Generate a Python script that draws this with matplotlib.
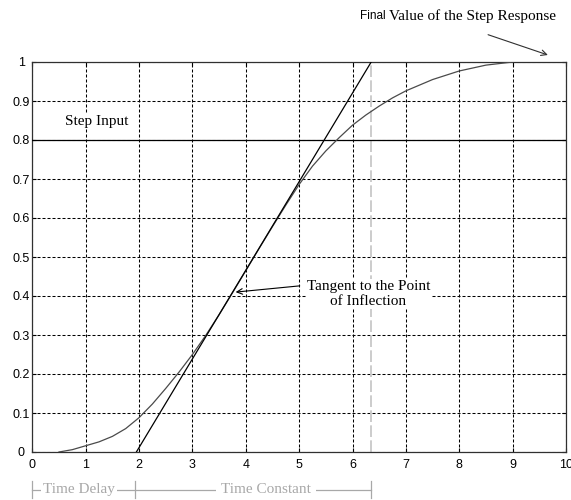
import matplotlib
matplotlib.use("Agg")
import matplotlib.pyplot as plt

# ---- data ----
x_resp = [0.5, 0.75, 1.0, 1.25, 1.5, 1.75, 2.0, 2.25, 2.5, 2.75, 3.0, 3.25, 3.5,
          3.75, 4.0, 4.25, 4.5, 4.75, 5.0, 5.25, 5.5, 5.75, 6.0, 6.25, 6.5, 6.75,
          7.0, 7.5, 8.0, 8.5, 9.0]
y_resp = [0.0, 0.006, 0.016, 0.026, 0.04, 0.06, 0.088, 0.123, 0.163, 0.205, 0.25,
          0.299, 0.352, 0.408, 0.465, 0.522, 0.578, 0.633, 0.686, 0.733, 0.772,
          0.806, 0.838, 0.864, 0.887, 0.908, 0.926, 0.955, 0.977, 0.992, 1.0]
step_level = 0.8
time_delay = 1.95          # tangent x-intercept
tangent_end = 6.35         # tangent reaches final value
final_value = 1.0
x_ticks = [0, 1, 2, 3, 4, 5, 6, 7, 8, 9, 10]
y_ticks = [0, 0.1, 0.2, 0.3, 0.4, 0.5, 0.6, 0.7, 0.8, 0.9, 1]
y_tick_labels = ["0", "0.1", "0.2", "0.3", "0.4", "0.5", "0.6", "0.7", "0.8", "0.9", "1"]

SERIF = "Liberation Serif"
SANS = "Liberation Sans"
FS = 11

fig = plt.figure(figsize=(5.71, 5.0), dpi=100)
ax = fig.add_axes([32.3 / 571, 1 - 452 / 500, (566 - 32.3) / 571, (452 - 62) / 500])

ax.set_xlim(0, 10)
ax.set_ylim(0, 1)
ax.set_xticks(x_ticks)
ax.set_yticks(y_ticks)
ax.set_yticklabels(y_tick_labels)

# grid
ax.grid(True, color="black", linestyle=(0, (2.9, 1.9)), linewidth=0.75)
ax.set_axisbelow(True)

for sp in ax.spines.values():
    sp.set_linewidth(0.9)
    sp.set_color("#303030")

ax.tick_params(direction="in", length=3, width=0.8, top=True, right=True,
               labelsize=9, colors="black")
ax.tick_params(axis="x", pad=5)
ax.tick_params(axis="y", pad=7.8)
for lab in ax.get_yticklabels():
    lab.set_horizontalalignment("center")
for lab in ax.get_xticklabels() + ax.get_yticklabels():
    lab.set_fontfamily(SANS)

# step input
ax.plot([0, 10], [step_level, step_level], color="black", linewidth=0.9, zorder=3)

# time-constant marker
ax.plot([tangent_end, tangent_end], [0, final_value], color="#c4c4c4",
        linewidth=1.2, linestyle=(0, (7, 2)), zorder=2.5)

# response curve
ax.plot(x_resp, y_resp, color="#4a4a4a", linewidth=0.9, zorder=4)

# tangent line
ax.plot([time_delay, tangent_end], [0, final_value], color="black",
        linewidth=0.9, zorder=4)

# texts
ax.text(0.61, 0.847, "Step Input", fontfamily=SERIF, fontsize=FS,
        ha="left", va="center", zorder=5,
        bbox=dict(facecolor="white", edgecolor="none", pad=0.5))

ax.text(6.3, 0.405, "Tangent to the Point\nof Inflection", fontfamily=SERIF,
        fontsize=FS, ha="center", va="center", multialignment="center",
        linespacing=1.2, zorder=5,
        bbox=dict(facecolor="white", edgecolor="none", pad=0.5))
ax.annotate("", xy=(3.81, 0.41), xytext=(5.01, 0.426),
            arrowprops=dict(arrowstyle="->", color="black", lw=0.8,
                            shrinkA=0, shrinkB=0), zorder=5)

# final value annotation (above the axes)
ax.text(6.62, 1.117, "Final", fontfamily=SANS, fontsize=8.5, ha="right",
        va="center", clip_on=False)
ax.text(6.68, 1.117, "Value of the Step Response", fontfamily=SERIF, fontsize=FS,
        ha="left", va="center", clip_on=False)
ax.annotate("", xy=(9.66, 1.018), xytext=(8.54, 1.070),
            arrowprops=dict(arrowstyle="->", color="#303030", lw=0.8,
                            shrinkA=0, shrinkB=0), annotation_clip=False)

# bottom time-delay / time-constant annotation
gray = "#a8a8a8"
yb = -0.097
ax.plot([-0.01, tangent_end], [yb, yb], color=gray, linewidth=0.9, clip_on=False)
for xv in (-0.01, time_delay - 0.02, tangent_end):
    ax.plot([xv, xv], [yb - 0.022, yb + 0.022], color=gray, linewidth=0.9,
            clip_on=False)
ax.text(0.875, yb, "Time Delay", fontfamily=SERIF, fontsize=FS, color=gray,
        ha="center", va="center", clip_on=False, zorder=5,
        bbox=dict(facecolor="white", edgecolor="none", pad=1.5))
ax.text(4.38, yb, "Time Constant", fontfamily=SERIF, fontsize=FS, color=gray,
        ha="center", va="center", clip_on=False, zorder=5,
        bbox=dict(facecolor="white", edgecolor="none", pad=3.5))

fig.savefig("out.png", dpi=100)
